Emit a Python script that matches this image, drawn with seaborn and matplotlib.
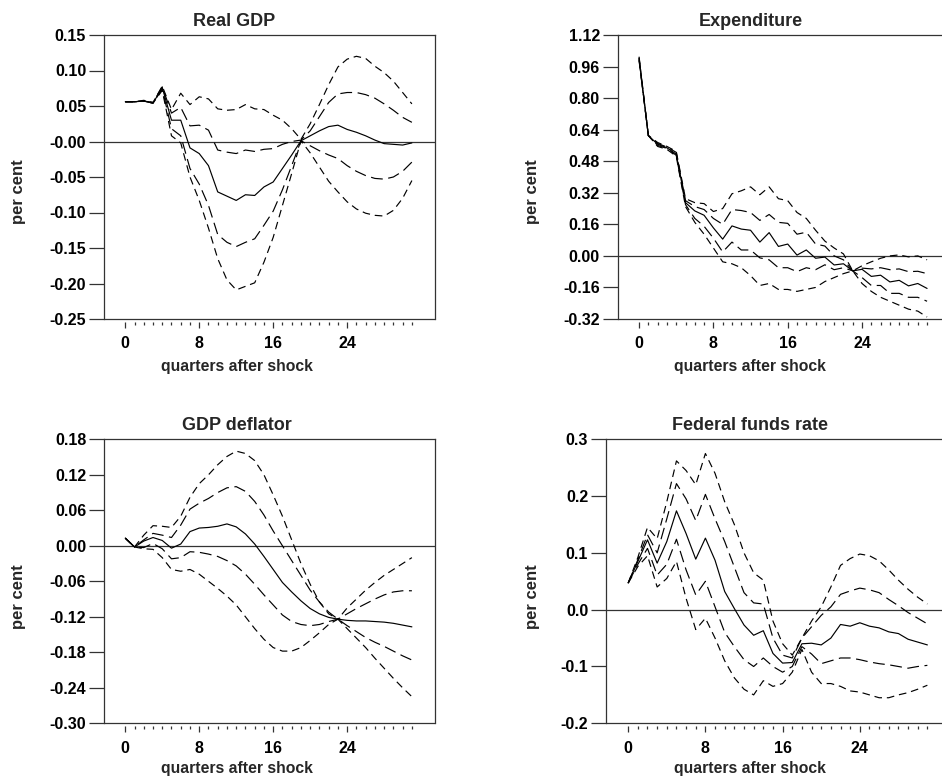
import numpy as np
import pandas as pd
import matplotlib
matplotlib.use("Agg")
import matplotlib.pyplot as plt
import seaborn as sns

# Impulse responses: median with inner and outer error bands, quarters 0..31
quarters = list(range(32))

rgdp_med = [0.056, 0.056, 0.057, 0.054, 0.076, 0.030, 0.030, -0.009, -0.017, -0.034, -0.071, -0.077, -0.083, -0.075, -0.076, -0.064,
            -0.057, -0.038, -0.019, 0.001, 0.008, 0.015, 0.021, 0.023, 0.017, 0.013, 0.008, 0.002, -0.003, -0.004, -0.005, -0.002]
rgdp_uo = [0.056, 0.056, 0.058, 0.055, 0.078, 0.045, 0.068, 0.052, 0.063, 0.060, 0.046, 0.044, 0.045, 0.052, 0.046, 0.045,
           0.037, 0.030, 0.018, 0.003, 0.025, 0.052, 0.080, 0.105, 0.116, 0.120, 0.117, 0.106, 0.097, 0.085, 0.069, 0.053]
rgdp_ui = [0.056, 0.056, 0.057, 0.055, 0.077, 0.040, 0.048, 0.022, 0.023, 0.016, -0.012, -0.015, -0.017, -0.012, -0.014, -0.011,
           -0.010, -0.004, 0.000, 0.002, 0.015, 0.035, 0.055, 0.067, 0.069, 0.069, 0.066, 0.061, 0.053, 0.044, 0.034, 0.027]
rgdp_li = [0.056, 0.056, 0.057, 0.054, 0.074, 0.018, 0.008, -0.038, -0.060, -0.090, -0.131, -0.142, -0.148, -0.142, -0.137, -0.118,
           -0.098, -0.068, -0.034, 0.001, -0.006, -0.013, -0.019, -0.024, -0.034, -0.042, -0.048, -0.052, -0.053, -0.050, -0.042, -0.029]
rgdp_lo = [0.056, 0.056, 0.057, 0.054, 0.072, 0.008, -0.002, -0.050, -0.083, -0.122, -0.165, -0.195, -0.209, -0.204, -0.199, -0.170,
           -0.135, -0.090, -0.045, 0.001, -0.016, -0.036, -0.056, -0.071, -0.085, -0.095, -0.101, -0.104, -0.105, -0.097, -0.080, -0.055]

exp_med = [1.000, 0.610, 0.566, 0.548, 0.516, 0.270, 0.228, 0.206, 0.142, 0.085, 0.152, 0.136, 0.130, 0.070, 0.118, 0.048,
           0.060, 0.004, 0.030, -0.012, -0.006, -0.046, -0.040, -0.076, -0.068, -0.104, -0.098, -0.132, -0.124, -0.152, -0.140, -0.165]
exp_uo = [1.010, 0.610, 0.575, 0.555, 0.530, 0.290, 0.270, 0.265, 0.225, 0.240, 0.315, 0.330, 0.350, 0.310, 0.350, 0.290,
          0.280, 0.220, 0.190, 0.130, 0.075, 0.040, 0.010, -0.076, -0.050, -0.030, -0.012, 0.000, 0.005, -0.005, 0.000, -0.020]
exp_ui = [1.005, 0.610, 0.570, 0.552, 0.525, 0.280, 0.250, 0.235, 0.190, 0.160, 0.235, 0.230, 0.220, 0.180, 0.210, 0.170,
          0.165, 0.110, 0.120, 0.060, 0.050, 0.000, -0.020, -0.076, -0.062, -0.066, -0.060, -0.070, -0.066, -0.080, -0.078, -0.090]
exp_li = [0.995, 0.610, 0.560, 0.545, 0.510, 0.260, 0.190, 0.150, 0.090, 0.020, 0.070, 0.030, 0.030, -0.010, -0.020, -0.060,
          -0.060, -0.080, -0.060, -0.070, -0.045, -0.070, -0.060, -0.076, -0.110, -0.150, -0.150, -0.190, -0.190, -0.210, -0.210, -0.230]
exp_lo = [0.990, 0.610, 0.555, 0.540, 0.505, 0.250, 0.170, 0.110, 0.040, -0.030, -0.040, -0.060, -0.100, -0.150, -0.140, -0.170,
          -0.170, -0.180, -0.170, -0.160, -0.130, -0.110, -0.090, -0.076, -0.140, -0.180, -0.210, -0.230, -0.250, -0.270, -0.280, -0.310]

def_med = [0.013, -0.002, 0.008, 0.014, 0.009, -0.004, 0.003, 0.024, 0.030, 0.031, 0.033, 0.037, 0.032, 0.020, 0.003, -0.018,
           -0.040, -0.062, -0.078, -0.093, -0.106, -0.115, -0.121, -0.124, -0.126, -0.127, -0.127, -0.128, -0.129, -0.131, -0.134, -0.137]
def_uo = [0.013, -0.002, 0.018, 0.034, 0.033, 0.031, 0.050, 0.082, 0.105, 0.120, 0.137, 0.151, 0.160, 0.156, 0.144, 0.120,
          0.086, 0.050, 0.010, -0.030, -0.065, -0.095, -0.115, -0.124, -0.140, -0.156, -0.172, -0.190, -0.207, -0.224, -0.240, -0.255]
def_ui = [0.013, -0.002, 0.010, 0.021, 0.018, 0.014, 0.035, 0.062, 0.072, 0.080, 0.090, 0.098, 0.100, 0.092, 0.075, 0.052,
          0.025, 0.000, -0.025, -0.050, -0.075, -0.095, -0.112, -0.124, -0.135, -0.145, -0.155, -0.163, -0.170, -0.178, -0.186, -0.193]
def_li = [0.013, -0.002, -0.003, 0.004, -0.005, -0.022, -0.020, -0.010, -0.011, -0.014, -0.018, -0.025, -0.034, -0.048, -0.065, -0.083,
          -0.100, -0.117, -0.128, -0.133, -0.135, -0.133, -0.128, -0.124, -0.115, -0.106, -0.098, -0.090, -0.083, -0.078, -0.076, -0.076]
def_lo = [0.013, -0.002, -0.005, -0.006, -0.020, -0.040, -0.043, -0.040, -0.048, -0.060, -0.072, -0.085, -0.100, -0.120, -0.140, -0.158,
          -0.172, -0.178, -0.178, -0.172, -0.160, -0.147, -0.133, -0.124, -0.105, -0.090, -0.075, -0.062, -0.050, -0.040, -0.030, -0.020]

ff_med = [0.047, 0.085, 0.123, 0.082, 0.120, 0.174, 0.134, 0.089, 0.126, 0.087, 0.032, 0.002, -0.027, -0.045, -0.037, -0.077,
          -0.094, -0.093, -0.060, -0.059, -0.062, -0.050, -0.026, -0.029, -0.023, -0.029, -0.032, -0.039, -0.042, -0.052, -0.057, -0.062]
ff_uo = [0.047, 0.092, 0.145, 0.125, 0.190, 0.262, 0.245, 0.220, 0.275, 0.240, 0.190, 0.150, 0.100, 0.065, 0.052, -0.020,
         -0.060, -0.080, -0.050, -0.020, 0.005, 0.040, 0.078, 0.090, 0.098, 0.095, 0.086, 0.070, 0.052, 0.036, 0.022, 0.010]
ff_ui = [0.047, 0.088, 0.132, 0.100, 0.160, 0.222, 0.195, 0.157, 0.203, 0.160, 0.120, 0.075, 0.030, 0.012, 0.010, -0.050,
         -0.080, -0.085, -0.050, -0.030, -0.010, 0.005, 0.027, 0.033, 0.038, 0.035, 0.030, 0.018, 0.007, -0.005, -0.015, -0.025]
ff_li = [0.047, 0.080, 0.108, 0.061, 0.080, 0.124, 0.070, 0.026, 0.050, 0.005, -0.040, -0.065, -0.088, -0.100, -0.085, -0.100,
         -0.110, -0.100, -0.065, -0.078, -0.095, -0.090, -0.085, -0.085, -0.088, -0.092, -0.095, -0.097, -0.100, -0.103, -0.100, -0.098]
ff_lo = [0.047, 0.076, 0.095, 0.040, 0.055, 0.085, 0.020, -0.035, -0.015, -0.050, -0.090, -0.120, -0.140, -0.150, -0.125, -0.135,
         -0.130, -0.110, -0.070, -0.110, -0.130, -0.130, -0.135, -0.143, -0.145, -0.150, -0.155, -0.155, -0.150, -0.146, -0.140, -0.133]

# Tick values and labels for each panel
rgdp_yticks = [0.15, 0.10, 0.05, 0.00, -0.05, -0.10, -0.15, -0.20, -0.25]
rgdp_ylabels = ["0.15", "0.10", "0.05", "-0.00", "-0.05", "-0.10", "-0.15", "-0.20", "-0.25"]
exp_yticks = [1.12, 0.96, 0.80, 0.64, 0.48, 0.32, 0.16, 0.00, -0.16, -0.32]
exp_ylabels = ["1.12", "0.96", "0.80", "0.64", "0.48", "0.32", "0.16", "0.00", "-0.16", "-0.32"]
def_yticks = [0.18, 0.12, 0.06, 0.00, -0.06, -0.12, -0.18, -0.24, -0.30]
def_ylabels = ["0.18", "0.12", "0.06", "0.00", "-0.06", "-0.12", "-0.18", "-0.24", "-0.30"]
ff_yticks = [0.3, 0.2, 0.1, 0.0, -0.1, -0.2]
ff_ylabels = ["0.3", "0.2", "0.1", "0.0", "-0.1", "-0.2"]
xticks_major = [0, 8, 16, 24]

titles = ["Real GDP", "Expenditure", "GDP deflator", "Federal funds rate"]

sns.set_theme(style="ticks")
plt.rcParams["font.family"] = ["Liberation Sans", "DejaVu Sans"]
plt.rcParams["font.weight"] = "bold"
plt.rcParams["lines.scale_dashes"] = False

W, H = 942, 783
fig = plt.figure(figsize=(W / 100, H / 100), dpi=100)
fig.patch.set_facecolor("white")


def px_box(left, top, right, bottom):
    return [left / W, 1 - bottom / H, (right - left) / W, (bottom - top) / H]


panels = [
    dict(series=(rgdp_med, rgdp_ui, rgdp_li, rgdp_uo, rgdp_lo), yt=rgdp_yticks, yl=rgdp_ylabels,
         box=px_box(104, 35, 435, 319), title=(234, 26.5), ylab=(18.5, 191.7), xlab=(236.5, 370.5)),
    dict(series=(exp_med, exp_ui, exp_li, exp_uo, exp_lo), yt=exp_yticks, yl=exp_ylabels,
         box=px_box(617.7, 35, 950.3, 319), title=(751, 26.5), ylab=(532.5, 191.7), xlab=(750, 370.5)),
    dict(series=(def_med, def_ui, def_li, def_uo, def_lo), yt=def_yticks, yl=def_ylabels,
         box=px_box(104, 439.3, 435, 723.3), title=(236.5, 430), ylab=(18.5, 596.7), xlab=(236.5, 773.5)),
    dict(series=(ff_med, ff_ui, ff_li, ff_uo, ff_lo), yt=ff_yticks, yl=ff_ylabels,
         box=px_box(606, 439.3, 951.5, 723.3), title=(750, 430), ylab=(532.5, 596.7), xlab=(750, 773.5)),
]

band_names = ["median", "upper inner", "lower inner", "upper outer", "lower outer"]
band_kind = ["median", "inner", "inner", "outer", "outer"]
dash_map = {"median": "", "inner": (8.5, 4.0), "outer": (5.5, 3.5)}
edge = "#333333"

for p, title in zip(panels, titles):
    ax = fig.add_axes(p["box"])
    frames = []
    for name, kind, vals in zip(band_names, band_kind, p["series"]):
        frames.append(pd.DataFrame({"quarter": quarters, "value": vals, "band": name, "kind": kind}))
    df = pd.concat(frames, ignore_index=True)

    ax.axhline(0, color=edge, lw=0.9, zorder=1)
    sns.lineplot(data=df, x="quarter", y="value", units="band", estimator=None,
                 style="kind", style_order=["median", "inner", "outer"], dashes=dash_map,
                 color="black", lw=0.85, legend=False, ax=ax, zorder=2)

    ymax, ymin = p["yt"][0], p["yt"][-1]
    ax.set_xlim(-2.3, 33.5)
    ax.set_ylim(ymin, ymax)

    for side in ("left", "top", "right"):
        ax.spines[side].set_color(edge)
        ax.spines[side].set_linewidth(0.9)
    ax.spines["bottom"].set_position(("outward", 2))
    ax.spines["bottom"].set_visible(False)
    ax.axhline(ymin, color=edge, lw=0.9, clip_on=False, zorder=3)

    ax.set_yticks(p["yt"], p["yl"])
    ax.set_xticks(xticks_major, [str(v) for v in xticks_major])
    ax.set_xticks([q for q in quarters if q not in xticks_major], minor=True)
    ax.tick_params(axis="y", direction="out", length=10.8, width=0.9, color=edge, pad=2,
                   labelsize=11.5, labelcolor="black")
    ax.tick_params(axis="x", which="major", direction="out", length=4.5, width=0.9, color=edge,
                   pad=6, labelsize=11.5, labelcolor="black")
    ax.tick_params(axis="x", which="minor", direction="out", length=2.5, width=0.9, color=edge)
    for lab in ax.get_xticklabels() + ax.get_yticklabels():
        lab.set_fontweight("bold")
    ax.set_xlabel("")
    ax.set_ylabel("")
    ax.grid(False)

    tx, ty = p["title"]
    fig.text(tx / W, 1 - ty / H, title, ha="center", va="baseline", fontsize=13, fontweight="bold")
    lx, ly = p["ylab"]
    fig.text(lx / W, 1 - ly / H, "per cent", ha="center", va="center", rotation=90,
             fontsize=12, fontweight="bold")
    xx, xy = p["xlab"]
    fig.text(xx / W, 1 - xy / H, "quarters after shock", ha="center", va="baseline",
             fontsize=11.3, fontweight="bold")

fig.savefig("out.png", dpi=100, facecolor="white")
